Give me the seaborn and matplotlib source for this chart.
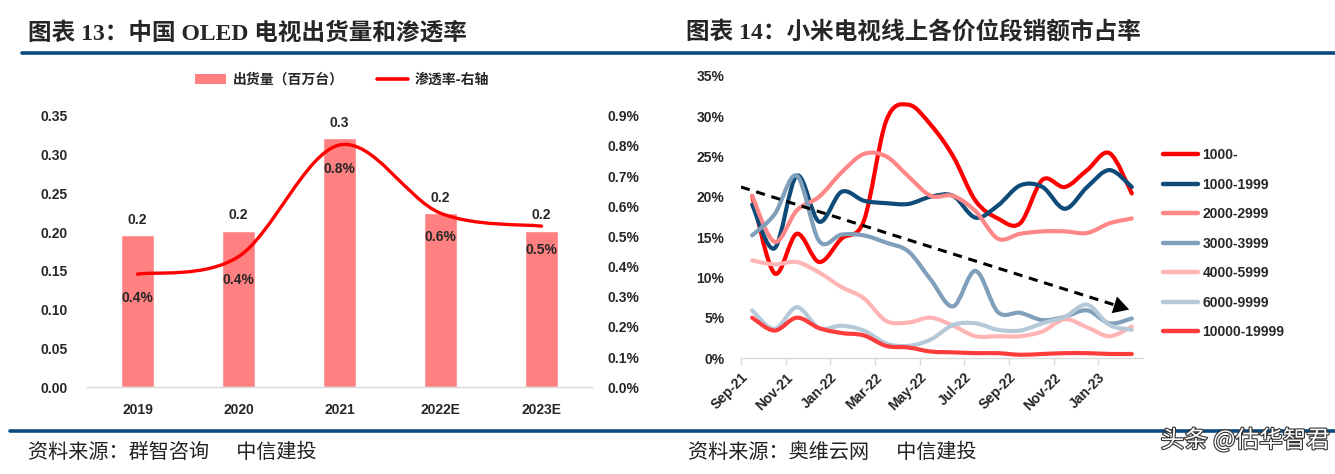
import numpy as np
import pandas as pd
import matplotlib
matplotlib.use('Agg')
import matplotlib.pyplot as plt
import matplotlib.patheffects as pe
import seaborn as sns
from matplotlib.path import Path
from matplotlib.patches import PathPatch, Patch
from matplotlib.lines import Line2D
from matplotlib.ticker import PercentFormatter, FuncFormatter

# ==========================================
# 数据：图表 13 中国 OLED 电视出货量和渗透率
# ==========================================
years = ['2019', '2020', '2021', '2022E', '2023E']
shipments = [0.196, 0.202, 0.321, 0.224, 0.202]          # 百万台
penetration = [0.00375, 0.00433, 0.00803, 0.00577, 0.00534]  # 右轴

# ==========================================
# 数据：图表 14 小米电视线上各价位段销额市占率 (%)
# ==========================================
months = ['Sep-21', 'Oct-21', 'Nov-21', 'Dec-21', 'Jan-22', 'Feb-22',
          'Mar-22', 'Apr-22', 'May-22', 'Jun-22', 'Jul-22', 'Aug-22',
          'Sep-22', 'Oct-22', 'Nov-22', 'Dec-22', 'Jan-23', 'Feb-23']
price_bands = ['1000-', '1000-1999', '2000-2999', '3000-3999',
               '4000-5999', '6000-9999', '10000-19999']
share_1000 = [20.1, 10.5, 15.4, 11.9, 14.8, 17.0, 29.4, 31.4, 28.9, 25.0, 19.5, 17.3, 16.7, 22.1, 21.2, 23.3, 25.4, 20.4]
share_1999 = [19.0, 13.6, 22.6, 16.9, 20.6, 19.5, 19.2, 19.1, 20.0, 20.1, 17.4, 18.9, 21.4, 21.2, 18.5, 21.2, 23.3, 21.2]
share_2999 = [20.1, 14.4, 18.3, 20.0, 23.0, 25.3, 25.0, 22.5, 20.1, 20.1, 18.2, 14.8, 15.4, 15.7, 15.7, 15.5, 16.7, 17.3]
share_3999 = [15.2, 17.8, 22.6, 14.5, 15.3, 15.2, 14.3, 13.2, 9.7, 6.4, 10.8, 5.7, 5.6, 4.7, 5.1, 5.9, 4.3, 4.9]
share_5999 = [12.1, 11.6, 11.9, 10.6, 8.8, 7.4, 4.6, 4.4, 5.0, 4.0, 2.7, 2.7, 2.7, 3.3, 4.8, 3.8, 2.7, 3.9]
share_9999 = [5.9, 3.6, 6.3, 3.7, 4.0, 3.4, 1.8, 1.5, 2.3, 4.1, 4.3, 3.5, 3.4, 4.3, 5.1, 6.6, 4.1, 3.5]
share_19999 = [5.0, 3.4, 5.0, 3.7, 3.1, 2.8, 1.5, 1.3, 0.8, 0.7, 0.6, 0.6, 0.4, 0.5, 0.6, 0.6, 0.5, 0.5]
band_colors = ['#FF0000', '#0E4B78', '#FF8787', '#7F9FBA', '#FFB5B5', '#B6C9D9', '#FF3C3C']

# 趋势箭头 (月份序号, %)
trend_start = (-0.5, 21.2)
trend_end = (17.0, 5.9)

BAR_COLOR = '#FF8080'
RULE_COLOR = '#0B4A80'


def smooth_path(xs, ys):
    # Excel 风格平滑线：每段用三次贝塞尔连接相邻数据点
    pts = np.column_stack([xs, ys]).astype(float)
    n = len(pts)
    verts = [pts[0]]
    codes = [Path.MOVETO]
    for k in range(n - 1):
        p0 = pts[max(k - 1, 0)]
        p1 = pts[k]
        p2 = pts[k + 1]
        p3 = pts[min(k + 2, n - 1)]
        verts += [p1 + (p2 - p0) / 6, p2 - (p3 - p1) / 6, p2]
        codes += [Path.CURVE4] * 3
    return Path(verts, codes)


sns.set_theme(style='white')
plt.rcParams['font.family'] = ['Liberation Sans', 'Noto Sans CJK SC', 'DejaVu Sans']
plt.rcParams['font.weight'] = 'bold'
plt.rcParams['axes.unicode_minus'] = False

W, H = 1335, 474
FS = 10
fig = plt.figure(figsize=(W / 100, H / 100), dpi=100)

# ==========================================
# 左图：柱状 + 平滑折线 (右轴)
# ==========================================
ax = fig.add_axes([87 / W, 1 - 387.3 / H, 505 / W, 271.6 / H])
sns.barplot(x=years, y=shipments, color=BAR_COLOR, saturation=1, width=0.32,
            errorbar=None, ax=ax)
ax.set_xlim(-0.5, len(years) - 0.5)
ax.set_ylim(0, 0.35)
ax.set_yticks(np.arange(0, 0.351, 0.05))
ax.yaxis.set_major_formatter(FuncFormatter(lambda v, p: f'{v:.2f}'))
ax.tick_params(axis='y', length=0, pad=14, labelsize=FS)
ax.tick_params(axis='x', length=0, pad=11, labelsize=FS)
for side in ['top', 'right', 'left']:
    ax.spines[side].set_visible(False)
ax.spines['bottom'].set_color('#D9D9D9')
ax.spines['bottom'].set_linewidth(1)
ax.bar_label(ax.containers[0], fmt='%.1f', padding=6, fontsize=FS, fontweight='bold')

ax2 = ax.twinx()
ax2.set_ylim(0, 0.009)
ax2.set_yticks(np.arange(0, 0.0091, 0.001))
ax2.yaxis.set_major_formatter(PercentFormatter(xmax=1, decimals=1))
ax2.tick_params(axis='y', length=0, pad=11, labelsize=FS)
for side in ax2.spines:
    ax2.spines[side].set_visible(False)
ax2.add_patch(PathPatch(smooth_path(range(len(years)), penetration), facecolor='none',
                        edgecolor='#FF0000', lw=2.4, capstyle='round', joinstyle='round'))
for i, v in enumerate(penetration):
    ax2.annotate(f'{v:.1%}', (i, v), xytext=(0, -17), textcoords='offset points',
                 ha='center', va='center', fontsize=FS, fontweight='bold')

for lab in ax.get_xticklabels() + ax.get_yticklabels() + ax2.get_yticklabels():
    lab.set_fontweight('bold')

left_handles = [Patch(facecolor=BAR_COLOR, edgecolor='none'),
                Line2D([0], [0], color='#FF0000', lw=2.6)]
fig.legend(left_handles, ['出货量（百万台）', '渗透率-右轴'], loc='center',
           bbox_to_anchor=(342 / W, 1 - 80 / H), ncol=2, frameon=False,
           handlelength=2.2, handletextpad=0.5, columnspacing=2.4,
           prop={'family': ['Noto Sans CJK SC'], 'weight': 'bold', 'size': 10})

# ==========================================
# 右图：各价位段平滑折线
# ==========================================
bx = fig.add_axes([741 / W, 1 - 358 / H, 402 / W, 282.3 / H])
all_shares = [share_1000, share_1999, share_2999, share_3999, share_5999, share_9999, share_19999]
xpos = np.arange(len(months))
for vals, col in zip(all_shares, band_colors):
    bx.add_patch(PathPatch(smooth_path(xpos, vals), facecolor='none', edgecolor=col,
                           lw=3, capstyle='round', joinstyle='round'))
bx.set_xlim(-0.5, len(months) - 0.5)
bx.set_ylim(0, 35)
bx.set_yticks(np.arange(0, 36, 5))
bx.yaxis.set_major_formatter(FuncFormatter(lambda v, p: f'{v:.0f}%'))
bx.set_xticks(np.arange(-0.5, len(months) - 1, 2))
bx.set_xticklabels(months[::2], rotation=45, ha='right', rotation_mode='anchor')
bx.tick_params(axis='y', length=0, pad=12, labelsize=FS)
bx.tick_params(axis='x', length=5, width=1, color='#D9D9D9', direction='out',
               pad=4, labelsize=FS, bottom=True)
for lab in bx.get_xticklabels() + bx.get_yticklabels():
    lab.set_fontweight('bold')
for side in ['top', 'right', 'left']:
    bx.spines[side].set_visible(False)
bx.spines['bottom'].set_color('#D9D9D9')
bx.spines['bottom'].set_linewidth(1)

# 虚线趋势箭头
bx.plot([trend_start[0], trend_end[0] - 0.35], [trend_start[1], trend_end[1] + 0.31],
        color='black', lw=2.2, dashes=(3, 2.2))
bx.annotate('', xy=trend_end, xytext=(trend_end[0] - 0.6, trend_end[1] + 0.53),
            arrowprops=dict(arrowstyle='-|>,head_length=0.8,head_width=0.45',
                            color='black', lw=0, mutation_scale=14))

right_handles = [Line2D([0], [0], color=c, lw=3.2) for c in band_colors]
bx.legend(right_handles, price_bands, loc='upper left',
          bbox_to_anchor=(1163 / W, 1 - 148 / H), bbox_transform=fig.transFigure,
          frameon=False, handlelength=2.5, handletextpad=0.35,
          labelspacing=1.12, borderaxespad=0, borderpad=0,
          prop={'family': ['Liberation Sans'], 'weight': 'bold', 'size': FS})

# ==========================================
# 标题、分隔线、资料来源
# ==========================================
title_font = ['Liberation Serif', 'Noto Sans CJK SC']
fig.text(28 / W, 1 - 33 / H, '图表 13：中国 OLED 电视出货量和渗透率', family=title_font,
         fontsize=17, fontweight='bold', va='center', ha='left')
fig.text(686 / W, 1 - 33 / H, '图表 14：小米电视线上各价位段销额市占率', family=title_font,
         fontsize=17, fontweight='bold', va='center', ha='left')

fig.add_artist(Line2D([22 / W, 1], [1 - 52.5 / H] * 2, color=RULE_COLOR, lw=2.6,
                      transform=fig.transFigure))
fig.add_artist(Line2D([10 / W, 1], [1 - 430.5 / H] * 2, color=RULE_COLOR, lw=2.6,
                      transform=fig.transFigure))

src_font = ['Noto Sans CJK SC']
fig.text(28 / W, 1 - 452 / H, '资料来源：群智咨询      中信建投', family=src_font,
         fontsize=14.5, fontweight='normal', style='italic', va='center', ha='left', color='#222222')
fig.text(688 / W, 1 - 452 / H, '资料来源：奥维云网      中信建投', family=src_font,
         fontsize=14.5, fontweight='normal', style='italic', va='center', ha='left', color='#222222')

fig.text(1330 / W, 1 - 440 / H, '头条 @估华智君', family=src_font, fontsize=17,
         fontweight='normal', color='white', va='center', ha='right',
         path_effects=[pe.withStroke(linewidth=1.6, foreground='#333333')])

fig.savefig('out.png', dpi=100)
